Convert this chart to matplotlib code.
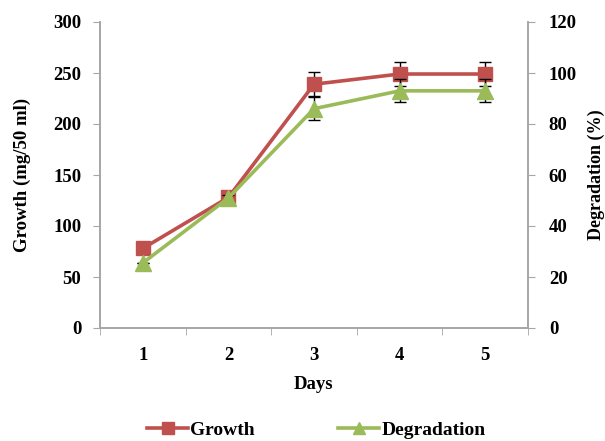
import numpy as np
import matplotlib.pyplot as plt
from matplotlib.lines import Line2D

days = [1, 2, 3, 4, 5]
growth = [78, 128, 239, 249, 249]
growth_err = [0, 3, 12, 12, 12]
degradation = [25.5, 51, 86, 93, 93]
degradation_err = [0, 1, 4.5, 4.5, 4.5]

red = '#C0504D'
green = '#9BBB59'
grey = '#A6A6A6'

plt.rcParams['font.family'] = 'Liberation Serif'
plt.rcParams['font.weight'] = 'bold'

fig = plt.figure(figsize=(6.05, 4.41), dpi=100)
ax = fig.add_axes([100/605, 1-328/441, 428/605, 306/441])
ax2 = ax.twinx()

ax.errorbar(days, growth, yerr=growth_err, color=red, lw=2.6, marker='s', ms=10,
            ecolor='black', elinewidth=1, capsize=4, capthick=1, zorder=3)
ax2.errorbar(days, degradation, yerr=degradation_err, color=green, lw=2.6, marker='^', ms=11,
             ecolor='black', elinewidth=1, capsize=4, capthick=1, zorder=3)

ax.set_xlim(0.5, 5.5)
ax.set_ylim(0, 300)
ax2.set_ylim(0, 120)
ax.set_yticks(np.arange(0, 301, 50))
ax2.set_yticks(np.arange(0, 121, 20))
ax.set_xticks(days)
ax.set_xticks(np.arange(0.5, 5.6, 1), minor=True)
ax.tick_params(axis='x', which='major', length=0, pad=14, labelsize=13.5)
ax.tick_params(axis='x', which='minor', length=5, color=grey, direction='out')
ax.tick_params(axis='y', length=5, color=grey, labelsize=13.5, pad=8.5)
ax2.tick_params(axis='y', length=5, color=grey, labelsize=13.5, pad=10)

for a in (ax, ax2):
    for s in a.spines.values():
        s.set_color(grey)
        s.set_linewidth(1.2)
ax.spines['top'].set_visible(False)
ax2.spines['top'].set_visible(False)

ax.set_xlabel('Days', fontsize=13.5, fontweight='bold', labelpad=8)
ax.set_ylabel('Growth (mg/50 ml)', fontsize=13.5, fontweight='bold', labelpad=16)
ax2.set_ylabel('Degradation (%)', fontsize=13, fontweight='bold', rotation=90)
ax2.yaxis.set_label_coords(1.14, 0.5)

handles = [Line2D([], [], color=red, lw=2.6, marker='s', ms=9),
           Line2D([], [], color=green, lw=2.6, marker='^', ms=9)]
fig.legend(handles, ['Growth', 'Degradation'], loc='lower center', ncol=2,
           bbox_to_anchor=(0.523, -0.035), frameon=False, fontsize=14,
           handlelength=2.1, handletextpad=0.1, columnspacing=4.3)

fig.savefig('out.png', dpi=100)
